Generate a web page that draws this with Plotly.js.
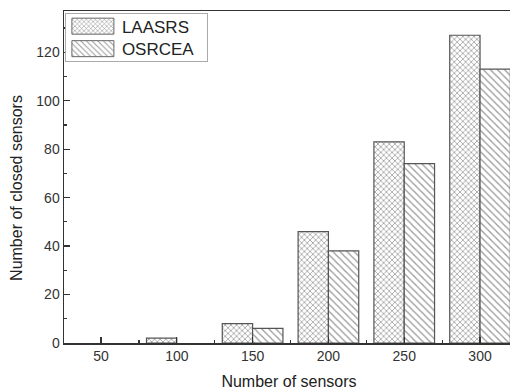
<!DOCTYPE html>
<html><head><meta charset="utf-8">
<script src="https://cdn.plot.ly/plotly-3.0.1.min.js"></script>
<style>html,body{margin:0;padding:0;background:#fff;overflow:hidden;width:510px;height:390px}</style>
</head><body><div id="chart" style="width:514px;height:390px"></div>
<script>
const sensors = [50, 100, 150, 200, 250, 300];
const laasrs = [0, 2, 8, 46, 83, 127];
const osrcea = [0, 0, 6, 38, 74, 113];
const seriesNames = ['LAASRS', 'OSRCEA'];

const font = 'Liberation Sans, Arial, sans-serif';
const lw = arr => arr.map(v => v > 0 ? 1.2 : 0);
const traces = [
  {type:'bar', name:seriesNames[0], x:sensors, y:laasrs,
   marker:{color:'#fff', line:{color:'#555', width:lw(laasrs)},
     pattern:{shape:'x', fgcolor:'#888', bgcolor:'#fff', size:4, solidity:0.3}}},
  {type:'bar', name:seriesNames[1], x:sensors, y:osrcea,
   marker:{color:'#fff', line:{color:'#555', width:lw(osrcea)},
     pattern:{shape:'\\', fgcolor:'#999', bgcolor:'#fff', size:5, solidity:0.25}}}
];
const layout = {
  width:514, height:390,
  margin:{l:64, r:0, t:11, b:47},
  paper_bgcolor:'#fff', plot_bgcolor:'#fff',
  barmode:'group', bargap:0.2, bargroupgap:0,
  showlegend:true,
  legend:{x:0.002, y:0.995, xanchor:'left', yanchor:'top', bgcolor:'#fff',
    bordercolor:'#aaa', borderwidth:1, font:{family:font, size:17, color:'#222'},
    tracegroupgap:0, itemwidth:46},
  font:{family:font, color:'#222'},
  xaxis:{range:[25.6, 322.4], tickvals:sensors, showgrid:false, zeroline:false,
    showline:true, linecolor:'#333', linewidth:1.5, mirror:true,
    ticks:'inside', ticklen:6, tickcolor:'#333', tickwidth:1.2,
    tickfont:{family:font, size:14, color:'#333'},
    minor:{dtick:50, tick0:25, ticks:'inside', ticklen:3, tickcolor:'#333'},
    title:{text:'Number of sensors', font:{family:font, size:16, color:'#222'}, standoff:12}},
  yaxis:{range:[0, 137], dtick:20, showgrid:false, zeroline:false,
    showline:true, linecolor:'#333', linewidth:1.5, mirror:false,
    ticks:'inside', ticklen:6, tickcolor:'#333', tickwidth:1.2,
    tickfont:{family:font, size:14, color:'#333'},
    minor:{dtick:10, ticks:'inside', ticklen:3, tickcolor:'#333'},
    title:{text:'Number of closed sensors', font:{family:font, size:16, color:'#222'}, standoff:9}}
};
Plotly.newPlot('chart', traces, layout, {displayModeBar:false, staticPlot:true}).then(gd => {
  const items = gd.querySelectorAll('.legend .traces');
  items.forEach((t, i) => {
    t.setAttribute('transform', 'translate(1,' + (13.5 + 22.5 * i) + ')');
    t.querySelectorAll('.legendpoints path').forEach(p => {
      p.setAttribute('d', 'M6,-8H48V8H6Z');
      p.setAttribute('transform', 'translate(0,0)');
      p.style.stroke = '#666';
      p.style.strokeWidth = '1px';
    });
  });
  const bg = gd.querySelector('.legend rect.bg');
  if (bg) { bg.setAttribute('height', 48); bg.setAttribute('width', 142); }
  const yt = gd.querySelector('.g-ytitle');
  if (yt) yt.setAttribute('transform', 'translate(0,11)');
});
</script></body></html>
